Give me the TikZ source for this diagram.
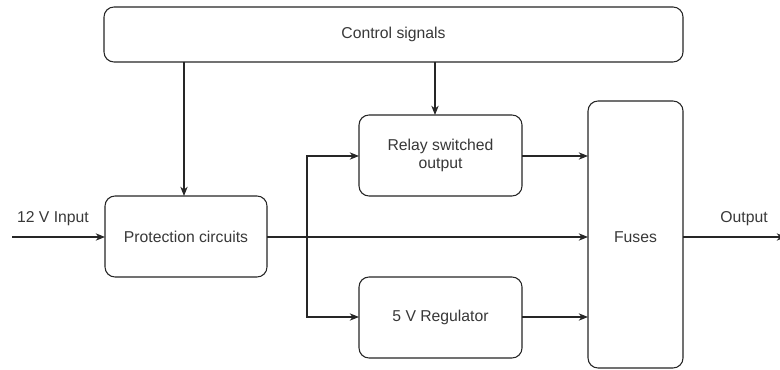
\documentclass[tikz,border=0pt]{standalone}
\usepackage{fontspec}
\setmainfont{Liberation Sans}
\usetikzlibrary{arrows.meta}
\begin{document}
\begin{tikzpicture}[x=0.75pt,y=-0.75pt,
  block/.style={draw=black!85, line width=0.8pt, rounded corners=7.5pt, fill=white},
  lbl/.style={font=\fontsize{11.8}{14}\selectfont, text=black!78, align=center},
  wire/.style={draw=black!85, line width=0.8pt},
  flow/.style={wire, -{Stealth[length=7pt,width=5.5pt]}}]
\useasboundingbox (0,0) rectangle (780,370);
% blocks
\draw[block] (104,7) rectangle (683,62);
\node[lbl] (ctrl) at (393.5,34.5) {Control signals};
\coordinate (ctrlA) at (184,62);
\coordinate (ctrlB) at (435,62);

\draw[block] (105,196) rectangle (267,277);
\node[lbl] (prot) at (186,236.5) {Protection circuits};

\draw[block] (359,115) rectangle (522,196);
\node[lbl] (relay) at (440.5,155.5) {Relay switched\\output};

\draw[block] (359,277) rectangle (522,358);
\node[lbl] (reg) at (440.5,317.5) {5 V Regulator};

\draw[block] (588,101) rectangle (683,368);
\node[lbl] (fuses) at (635.5,237) {Fuses};

% named anchor points on block edges
\coordinate (protT) at (184,196);
\coordinate (protL) at (105,237);
\coordinate (protR) at (267,237);
\coordinate (relayT) at (435,115);
\coordinate (relayL) at (359,156);
\coordinate (relayR) at (522,156);
\coordinate (regL) at (359,317);
\coordinate (regR) at (522,317);
\coordinate (fuseA) at (588,156);
\coordinate (fuseB) at (588,237);
\coordinate (fuseC) at (588,317);
\coordinate (fuseR) at (683,237);
\coordinate (split) at (307,237);
\coordinate (inStart) at (12,237);
\coordinate (outEnd) at (786,237);

% connectors
\draw[flow] (ctrlA) -- (protT);
\draw[flow] (ctrlB) -- (relayT);
\draw[flow] (inStart) -- (protL);
\draw[wire, line width=1.6pt] (protR) -- (split);
\draw[flow] (split) -- (fuseB);
\draw[flow] (split) |- (relayL);
\draw[flow] (split) |- (regL);
\draw[flow] (relayR) -- (fuseA);
\draw[flow] (regR) -- (fuseC);
\draw[flow] (fuseR) -- (outEnd);

% edge labels
\node[lbl] (inlbl) at (53,219) {12 V Input};
\node[lbl] (outlbl) at (744,219) {Output};
\end{tikzpicture}
\end{document}
